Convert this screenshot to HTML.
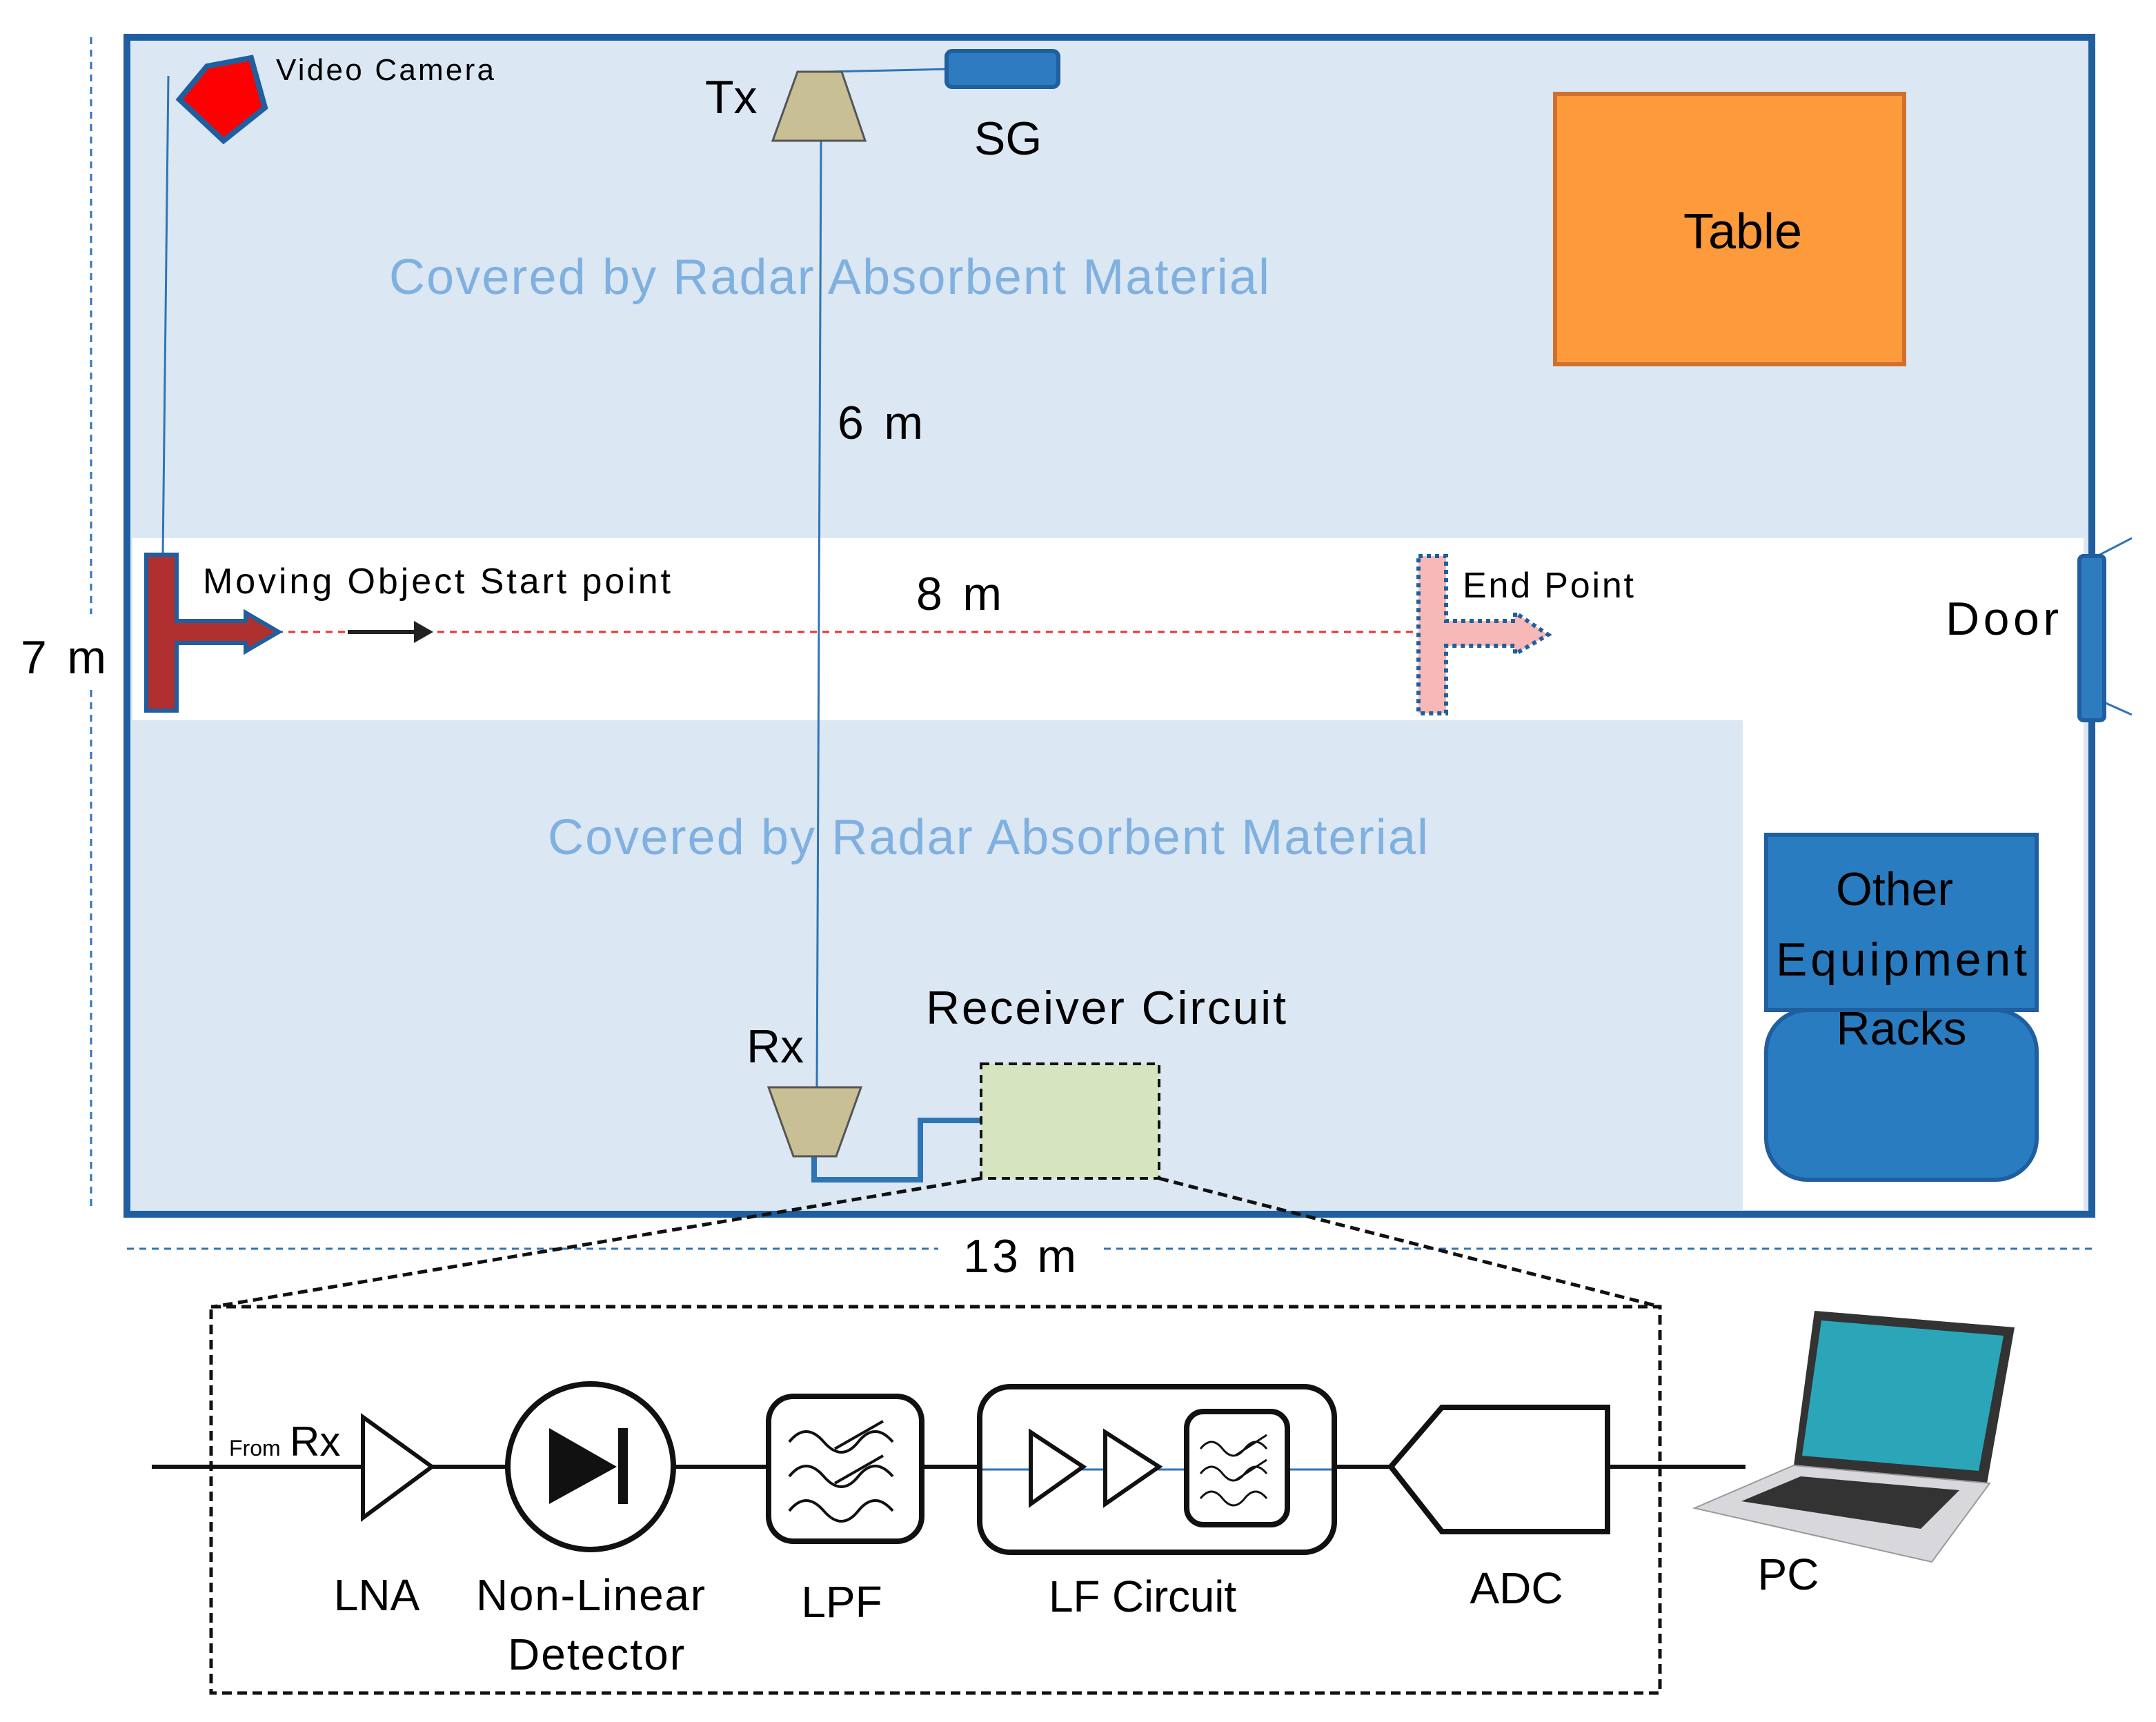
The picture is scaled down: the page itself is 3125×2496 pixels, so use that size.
<!DOCTYPE html>
<html><head><meta charset="utf-8"><style>html,body{margin:0;padding:0;background:#fff}svg{display:block}text{font-family:"Liberation Sans",sans-serif}</style></head><body>
<svg width="3125" height="2496" viewBox="0 0 1562.5 1248" xmlns="http://www.w3.org/2000/svg">
<rect x="0" y="0" width="1562.5" height="1248" fill="#fff"/>
<rect x="92" y="27" width="1424" height="853" fill="#dbe7f3" stroke="#1f5f9f" stroke-width="5"/>
<rect x="96" y="390" width="1414" height="132" fill="#fff"/>
<rect x="1263" y="520" width="247" height="357" fill="#fff"/>
<line x1="66" y1="27" x2="66" y2="445" stroke="#2e75b6" stroke-width="1.5" stroke-dasharray="5,4"/>
<line x1="66" y1="500" x2="66" y2="878" stroke="#2e75b6" stroke-width="1.5" stroke-dasharray="5,4"/>
<line x1="92" y1="905" x2="680" y2="905" stroke="#2e75b6" stroke-width="1.5" stroke-dasharray="5,4"/>
<line x1="800" y1="905" x2="1516" y2="905" stroke="#2e75b6" stroke-width="1.5" stroke-dasharray="5,4"/>
<text x="15" y="488" font-size="34" textLength="62">7 m</text>
<text x="698" y="922" font-size="34" textLength="82">13 m</text>
<line x1="122" y1="55" x2="118" y2="402" stroke="#2e75b6" stroke-width="1.5"/>
<polygon points="130,72 150,48 182,42 192,78 162,102" fill="#f00" stroke="#1f5f9f" stroke-width="4"/>
<text x="200" y="58" font-size="22" textLength="158">Video Camera</text>
<line x1="600" y1="52" x2="690" y2="50" stroke="#2e75b6" stroke-width="1.5"/>
<line x1="595" y1="100" x2="592" y2="790" stroke="#2e75b6" stroke-width="1.5"/>
<polygon points="578,52 610,52 627,102 560,102" fill="#c9bf94" stroke="#555" stroke-width="1.5"/>
<rect x="686" y="37" width="81" height="26" rx="4" fill="#2e7bc0" stroke="#1f5f9f" stroke-width="3"/>
<text x="511" y="82" font-size="34">Tx</text>
<text x="706" y="112" font-size="34">SG</text>
<text x="282" y="213" font-size="36" fill="#7fb0e0" textLength="638">Covered by Radar Absorbent Material</text>
<text x="397" y="619" font-size="36" fill="#7fb0e0" textLength="638">Covered by Radar Absorbent Material</text>
<text x="607" y="318" font-size="34" textLength="62">6 m</text>
<text x="664" y="442" font-size="34" textLength="62">8 m</text>
<rect x="1127" y="68" width="253" height="196" fill="#fd9a3c" stroke="#d07030" stroke-width="3"/>
<text x="1263" y="180" font-size="36" text-anchor="middle">Table</text>
<line x1="200" y1="458" x2="1030" y2="458" stroke="#f03030" stroke-width="1.5" stroke-dasharray="5,4"/>
<line x1="252" y1="458" x2="304" y2="458" stroke="#222" stroke-width="3"/>
<polygon points="314,458 300,450 300,466" fill="#222"/>
<path d="M106,402 H128 V450 H178 V444 L202,458 L178,472 V466 H128 V515 H106 Z" fill="#b03030" stroke="#1f5f9f" stroke-width="3"/>
<path d="M1028,403 H1048 V450 H1098 V444 L1122,460 L1098,474 V468 H1048 V517 H1028 Z" fill="#f7b8b8" stroke="#1f5f9f" stroke-width="3" stroke-dasharray="3,3"/>
<text x="147" y="430" font-size="26" textLength="339">Moving Object Start point</text>
<text x="1060" y="433" font-size="26" textLength="124">End Point</text>
<line x1="1516" y1="405" x2="1545" y2="390" stroke="#2e75b6" stroke-width="1.5"/>
<line x1="1516" y1="505" x2="1545" y2="518" stroke="#2e75b6" stroke-width="1.5"/>
<rect x="1507" y="403" width="18" height="119" rx="3" fill="#2e7bc0" stroke="#1f5f9f" stroke-width="3"/>
<text x="1410" y="460" font-size="34" textLength="82">Door</text>
<rect x="1280" y="732" width="196" height="123" rx="30" fill="#2a7cc0" stroke="#1f5f9f" stroke-width="3"/>
<rect x="1280" y="605" width="196" height="127" fill="#2a7cc0" stroke="#1f5f9f" stroke-width="3"/>
<text x="1373" y="656" font-size="34" text-anchor="middle">Other</text>
<text x="1287" y="707" font-size="34" textLength="182">Equipment</text>
<text x="1378" y="757" font-size="34" text-anchor="middle">Racks</text>
<text x="671" y="742" font-size="34" textLength="261">Receiver Circuit</text>
<text x="541" y="770" font-size="34">Rx</text>
<polyline points="590,836 590,855 667,855 667,812 711,812" fill="none" stroke="#2e75b6" stroke-width="4"/>
<polygon points="557,788 624,788 606,838 575,838" fill="#c9bf94" stroke="#555" stroke-width="1.5"/>
<rect x="711" y="771" width="129" height="83" fill="#d6e5c0" stroke="#111" stroke-width="2" stroke-dasharray="6,4"/>
<line x1="711" y1="854" x2="155" y2="947" stroke="#111" stroke-width="2.5" stroke-dasharray="7,4"/>
<line x1="840" y1="854" x2="1203" y2="947" stroke="#111" stroke-width="2.5" stroke-dasharray="7,4"/>
<rect x="153" y="947" width="1050" height="280" fill="none" stroke="#111" stroke-width="2.5" stroke-dasharray="7,4"/>
<g stroke="#111" stroke-width="3" fill="none">
<line x1="110" y1="1063" x2="263" y2="1063"/>
<polygon points="263,1027 263,1100 313,1063" fill="#fff"/>
<line x1="313" y1="1063" x2="368" y2="1063"/>
<circle cx="428" cy="1063" r="60" fill="#fff" stroke-width="4"/>
<line x1="488" y1="1063" x2="557" y2="1063"/>
<rect x="557" y="1012" width="111" height="105" rx="18" fill="#fff" stroke-width="4"/>
<line x1="668" y1="1063" x2="710" y2="1063"/>
<rect x="710" y="1005" width="257" height="120" rx="22" fill="#fff" stroke-width="4"/>
<line x1="967" y1="1063" x2="1008" y2="1063"/>
<polygon points="1008,1063 1045,1020 1165,1020 1165,1110 1045,1110" fill="#fff" stroke-width="4"/>
<line x1="1165" y1="1063" x2="1265" y2="1063"/>
</g>
<polygon points="398,1035 398,1090 447,1063" fill="#111"/>
<rect x="448" y="1035" width="7" height="55" fill="#111"/>
<g stroke="#111" stroke-width="2" fill="none">
<path d="M572,1045 q12,-15 25,0 t25,0 t25,0 M572,1070 q12,-15 25,0 t25,0 t25,0 M572,1095 q12,-15 25,0 t25,0 t25,0"/>
<line x1="605" y1="1050" x2="640" y2="1030"/><line x1="605" y1="1075" x2="640" y2="1055"/>
</g>
<line x1="712" y1="1065" x2="965" y2="1065" stroke="#2e75b6" stroke-width="1.5"/>
<g stroke="#111" stroke-width="3" fill="#fff">
<polygon points="747,1038 747,1090 785,1063"/>
<polygon points="801,1038 801,1090 840,1063"/>
<rect x="860" y="1023" width="73" height="82" rx="12" stroke-width="4"/>
</g>
<g stroke="#111" stroke-width="1.5" fill="none">
<path d="M870,1050 q8,-10 16,0 t16,0 t16,0 M870,1068 q8,-10 16,0 t16,0 t16,0 M870,1086 q8,-10 16,0 t16,0 t16,0"/>
<line x1="895" y1="1055" x2="918" y2="1040"/><line x1="895" y1="1073" x2="918" y2="1058"/>
</g>
<text x="166" y="1055" font-size="16">From</text>
<text x="210" y="1055" font-size="30">Rx</text>
<text x="273" y="1167" font-size="32" text-anchor="middle">LNA</text>
<text x="428" y="1167" font-size="32" text-anchor="middle" textLength="166">Non-Linear</text>
<text x="432" y="1210" font-size="32" text-anchor="middle" textLength="128">Detector</text>
<text x="610" y="1172" font-size="32" text-anchor="middle">LPF</text>
<text x="828" y="1168" font-size="32" text-anchor="middle" textLength="136">LF Circuit</text>
<text x="1099" y="1162" font-size="32" text-anchor="middle">ADC</text>
<text x="1296" y="1152" font-size="32" text-anchor="middle">PC</text>
<polygon points="1315,950 1460,962 1440,1075 1300,1062" fill="#333"/>
<polygon points="1320,957 1452,968 1434,1066 1306,1055" fill="#2aa6b8"/>
<polygon points="1228,1093 1300,1062 1442,1075 1400,1132" fill="#d8d8dc" stroke="#999" stroke-width="1"/>
<polygon points="1262,1088 1305,1070 1420,1080 1392,1108" fill="#333"/>
</svg>
</body></html>
